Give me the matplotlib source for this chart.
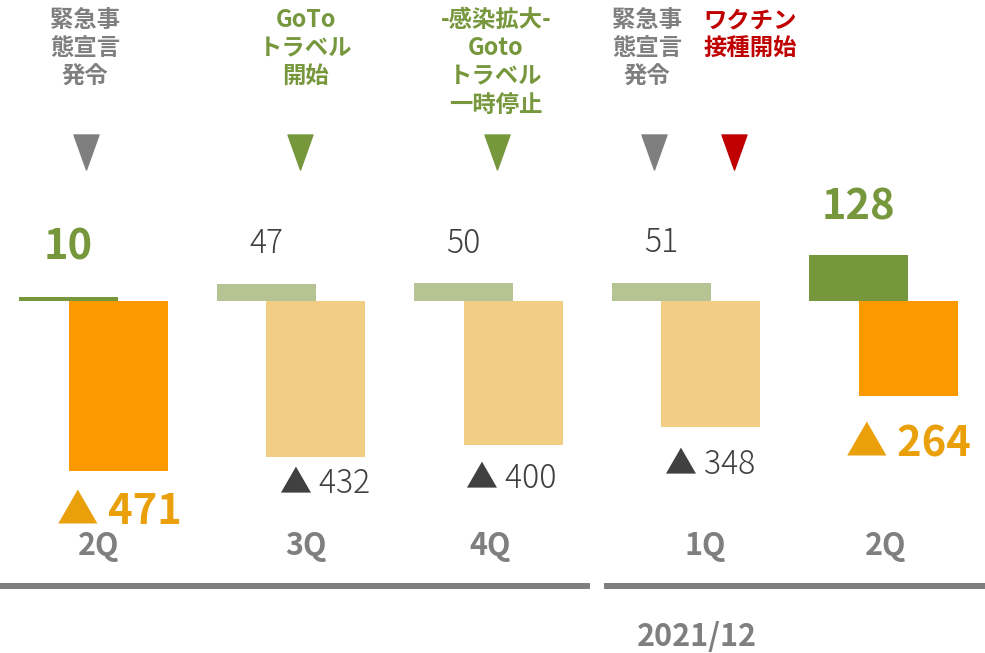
import numpy as np
import matplotlib.pyplot as plt
from matplotlib.path import Path
from matplotlib.lines import Line2D

plt.rcParams['font.family'] = ['Noto Sans CJK JP', 'DejaVu Sans']

# data
quarters = ['2Q', '3Q', '4Q', '1Q', '2Q']
profit = [10, 47, 50, 51, 128]
loss = [-471, -432, -400, -348, -264]
highlight = [True, False, False, False, True]
period = '2021/12'
events = ['緊急事\n態宣言\n発令', 'GoTo\nトラベル\n開始',
          '-感染拡大-\nGoto\nトラベル\n一時停止', '緊急事\n態宣言\n発令',
          'ワクチン\n接種開始']

GREEN = '#77973D'
GREEN_L = '#B5C492'
ORANGE = '#FB9900'
ORANGE_L = '#F2CD84'
ORANGE_T = '#E9A00A'
DARK = '#404040'
GRAY = '#7F7F7F'
RED = '#C00000'
event_colors = [GRAY, GREEN, GREEN, GRAY, RED]

W, H = 985, 653
fig = plt.figure(figsize=(W / 100, H / 100), dpi=100)
ax = fig.add_axes([0, 0, 1, 1])
ax.axis('off')

def fx(px):
    return px / W

def fy(py):
    return 1 - py / H

x = np.arange(len(quarters))
w = 0.501
ax.bar(x, profit, w, color=[GREEN if h else GREEN_L for h in highlight])
ax.bar(x + w / 2, loss, w, color=[ORANGE if h else ORANGE_L for h in highlight])
ax.set_xlim(-0.3467, 4.638)
ax.set_ylim(-975, 834)

# value labels
pos_off = [50, 40, 39, 40, 47]
neg_off = [-41, -27, -33, -38, -47]
neg_dx = [1, 9, -2, -1, 0]
for i in range(len(quarters)):
    if highlight[i]:
        kw = dict(color=GREEN, fontsize=30, fontweight='bold')
        kw2 = dict(color=ORANGE_T, fontsize=30, fontweight='bold')
    else:
        kw = dict(color=DARK, fontsize=23, fontweight='light')
        kw2 = dict(color=DARK, fontsize=23, fontweight='light')
    ax.annotate(f'{profit[i]}', (x[i], profit[i]), xytext=(0, pos_off[i]),
                textcoords='offset pixels', ha='center', va='center', **kw)
    ax.annotate(f'▲ {-loss[i]}', (x[i] + w / 2, loss[i]),
                xytext=(neg_dx[i], neg_off[i]),
                textcoords='offset pixels', ha='center', va='center', **kw2)

# quarter labels
q_px = [99, 306, 490, 705, 886]
for q, px in zip(quarters, q_px):
    fig.text(fx(px), fy(546), q, ha='center', va='center', color=GRAY,
             fontsize=22, fontweight='bold')
fig.text(fx(697), fy(637), period, ha='center', va='center', color=GRAY,
         fontsize=22, fontweight='bold')

# period lines
fig.add_artist(Line2D([fx(0), fx(587)], [fy(586), fy(586)], color=GRAY, lw=4.3))
fig.add_artist(Line2D([fx(607), fx(985)], [fy(586), fy(586)], color=GRAY, lw=4.3))

# events
tri = Path([(-0.357, 0.5), (0.357, 0.5), (0, -0.5), (-0.357, 0.5)],
           [Path.MOVETO, Path.LINETO, Path.LINETO, Path.CLOSEPOLY])
text_px = [85, 306, 496, 647, 750]
tri_px = [86, 300, 497, 654, 734]
for ev, c, tx, px in zip(events, event_colors, text_px, tri_px):
    fig.text(fx(tx), fy(8), ev, ha='center', va='top', color=c,
             fontsize=16.8, fontweight='bold', linespacing=1.22)
    fig.add_artist(Line2D([fx(px)], [fy(152)], marker=tri, markersize=25.2,
                          color=c, linestyle='none'))

fig.savefig('out.png', dpi=100)
